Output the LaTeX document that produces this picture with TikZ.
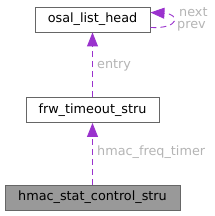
\documentclass[tikz,border=0pt]{standalone}
\usepackage{fontspec}
\setmainfont{DejaVu Sans}
\usetikzlibrary{arrows.meta}
\definecolor{edgepurple}{HTML}{9A32CD}
\definecolor{lblgrey}{HTML}{B4B4B4}
\definecolor{boxline}{HTML}{666666}
\definecolor{boxfill}{HTML}{999999}
\tikzset{
  cls/.style={draw=boxline, line width=0.9pt, fill=white, minimum height=25pt, inner sep=0pt, font=\fontsize{12.8}{15}\selectfont, text=black},
  rel/.style={draw=edgepurple, line width=0.9pt, dash pattern=on 6pt off 4pt, -{Triangle[length=14pt,width=11pt]}},
  lbl/.style={text=lblgrey, font=\fontsize{12.8}{15}\selectfont, inner sep=0pt}
}
\begin{document}
\begin{tikzpicture}[x=1pt,y=1pt]
\useasboundingbox (0,0) rectangle (214,216);
\node[cls, minimum width=115pt] (osal) at (92.5,196.5) {osal\_list\_head};
\node[cls, minimum width=133pt] (frw) at (92.5,106) {frw\_timeout\_stru};
\node[cls, minimum width=175pt, fill=boxfill] (hmac) at (92.5,18.5) {hmac\_stat\_control\_stru};
\draw[rel] (frw.north) -- (osal.south);
\draw[rel] (hmac.north) -- (frw.south);
\coordinate (lo) at ([yshift=-8pt]osal.east);
\coordinate (hi) at ([yshift=7pt]osal.east);
\draw[rel] (lo) .. controls (180,187) and (180,202) .. (hi);
\node[lbl, anchor=west] at (97,151) {entry};
\node[lbl, anchor=west] at (97,64) {hmac\_freq\_timer};
\node[lbl, anchor=west] at (179,204) {next};
\node[lbl, anchor=west] at (177,190) {prev};
\end{tikzpicture}
\end{document}
